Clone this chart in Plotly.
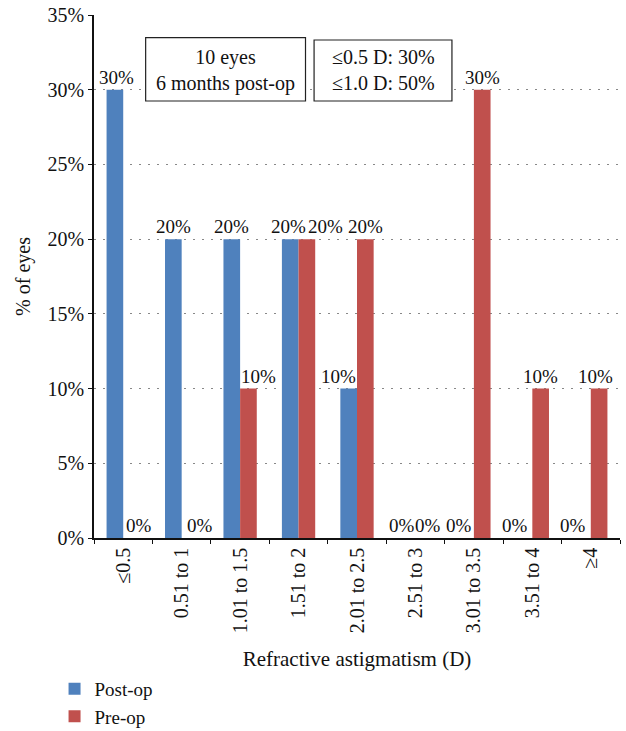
import plotly.graph_objects as go

# Refractive astigmatism bins (D)
categories = ["≤0.5", "0.51 to 1", "1.01 to 1.5", "1.51 to 2", "2.01 to 2.5",
              "2.51 to 3", "3.01 to 3.5", "3.51 to 4", "≥4"]
post_op = [30, 20, 20, 20, 10, 0, 0, 0, 0]
pre_op = [0, 0, 10, 20, 20, 0, 30, 10, 10]

y_ticks = [0, 5, 10, 15, 20, 25, 30, 35]
y_tick_labels = [f"{v}%" for v in y_ticks]

# horizontal nudges (px) of the value labels so neighbouring labels don't collide
post_nudge = [2, 0, 0, -2, -10, -5, -7, -9, -9]
pre_nudge = [7, 10, 10, 19, 0, 4, 0, 0, -4]

SERIF = "Liberation Serif, Times New Roman, serif"
BLUE, RED = "#4F81BD", "#C0504D"

# plot-area geometry in pixels, used for the bar offsets within a group
W, H = 626, 731
ML, MR, MT, MB = 94, 6, 15, 193
BARGAP = 0.43
cat_px = (W - ML - MR) / len(categories)
half_bar = cat_px * (1 - BARGAP) / 4

fig = go.Figure()
for name, vals, color in [("Post-op", post_op, BLUE), ("Pre-op", pre_op, RED)]:
    fig.add_trace(go.Bar(
        x=categories, y=vals, name=name,
        marker=dict(color=color, line=dict(width=0)),
        hoverinfo="x+y+name",
    ))

# value labels above each bar
for vals, side, nudges in [(post_op, -1, post_nudge), (pre_op, 1, pre_nudge)]:
    for cat, v, dx in zip(categories, vals, nudges):
        fig.add_annotation(
            x=cat, y=v, text=f"{v}%", showarrow=False,
            xanchor="center", yanchor="bottom",
            xshift=side * half_bar + dx, yshift=0,
            font=dict(family=SERIF, size=19, color="#111"),
        )

fig.update_layout(
    width=W, height=H,
    margin=dict(l=ML, r=MR, t=MT, b=MB, autoexpand=False),
    paper_bgcolor="white", plot_bgcolor="white",
    barmode="group", bargap=BARGAP, bargroupgap=0,
    font=dict(family=SERIF, size=19, color="#111"),
    showlegend=True,
    legend=dict(x=-0.075, y=-0.252, xanchor="left", yanchor="top",
                orientation="v", font=dict(family=SERIF, size=19),
                itemwidth=30, tracegroupgap=0),
    xaxis=dict(
        type="category", tickson="boundaries", ticks="outside", ticklen=4,
        tickcolor="#111", showline=True, linecolor="#111", linewidth=1.5,
        tickangle=-90, tickfont=dict(family=SERIF, size=20, color="#111"),
        showgrid=False, automargin=False,
        title=dict(text="Refractive astigmatism (D)", standoff=19,
                   font=dict(family=SERIF, size=21)),
    ),
    yaxis=dict(
        range=[0, 35], tickmode="array", tickvals=y_ticks, ticktext=y_tick_labels,
        ticks="outside", ticklen=4, tickcolor="#111",
        showline=True, linecolor="#111", linewidth=1.5,
        zeroline=False, showgrid=True, gridcolor="#888", gridwidth=1,
        griddash="2px,7px", automargin=False,
        tickfont=dict(family=SERIF, size=20, color="#111"),
        title=dict(text="% of eyes", standoff=12, font=dict(family=SERIF, size=20)),
    ),
)

# the two framed notes
fig.add_shape(type="rect", xref="paper", yref="paper",
              x0=0.0982, x1=0.4021, y0=0.8356, y1=0.9566,
              line=dict(color="#222", width=1.2), fillcolor="white")
fig.add_shape(type="rect", xref="paper", yref="paper",
              x0=0.4184, x1=0.6805, y0=0.8356, y1=0.9522,
              line=dict(color="#222", width=1.2), fillcolor="white")
fig.add_annotation(
    xref="paper", yref="paper", x=0.2501, y=0.894,
    xanchor="center", yanchor="middle", showarrow=False,
    text="10 eyes<br>6 months post-op", align="center",
    font=dict(family=SERIF, size=20, color="#111"),
)
fig.add_annotation(
    xref="paper", yref="paper", x=0.5495, y=0.894,
    xanchor="center", yanchor="middle", showarrow=False,
    text="≤0.5 D: 30%<br>≤1.0 D: 50%", align="center",
    font=dict(family=SERIF, size=20, color="#111"),
)

fig.write_html("out.html")
